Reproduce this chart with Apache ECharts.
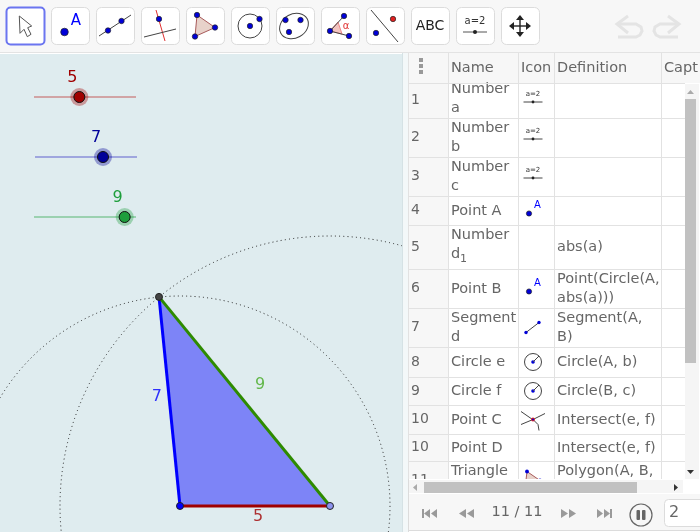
<!DOCTYPE html>
<html lang="en">
<head>
<meta charset="UTF-8">
<title>GeoGebra triangle construction</title>
<script src="https://cdn.jsdelivr.net/npm/echarts@6/dist/echarts.min.js"></script>
<style>
html, body { margin: 0; padding: 0; background: #fff; overflow: hidden; }
#chart { width: 700px; height: 532px; }
</style>
</head>
<body>
<div id="chart"></div>
<script>
// slider values, the triangle sides
const sliderNames = ['a', 'b', 'c'];
const sliderValues = [5, 7, 9];
const sliderRange = [1, 10];

// construction points in graph units
const pointA = [0, 0];
const pointB = [5, 0];
const pointC = [-0.7, 6.97];

// side labels, anchored near the middle of each side
const sideLabelPoints = [[2.6, -0.36], [-0.77, 3.63], [2.67, 4.03]];

// construction protocol table
const rowNumbers = ['1', '2', '3', '4', '5', '6', '7', '8', '9', '10', '10', '11'];
const rowNames = ['Number\na', 'Number\nb', 'Number\nc', 'Point A', 'Number\nd', 'Point B', 'Segment\nd', 'Circle e', 'Circle f', 'Point C', 'Point D', 'Triangle\nt1'];
const rowIcons = ['slider', 'slider', 'slider', 'point', '', 'point', 'segment', 'circle', 'circle', 'intersect', '', 'triangle'];
const rowDefinitions = ['', '', '', '', 'abs(a)', 'Point(Circle(A,\nabs(a)))', 'Segment(A,\nB)', 'Circle(A, b)', 'Circle(B, c)', 'Intersect(e, f)', 'Intersect(e, f)', 'Polygon(A, B,\nC)'];
const tableHeaders = ['Name', 'Icon', 'Definition', 'Capt'];
const stepLabel = '11 / 11';
const speedValue = '2';

const FONT = '"DejaVu Sans"';
const RED = '#a00000', BLUE = '#0000ff', GREEN = '#2e8b00';
const sliderColors = ['#a00000', '#000099', '#1e9e3c'];
const sliderLines = ['#cc8d8d', '#8a8fd8', '#85c99b'];
const sliderTops = [87, 147, 207];
const sliderLefts = [34, 35, 34];

const chart = echarts.init(document.getElementById('chart'));

// ---- small helpers for the app chrome around the graph ----
const rect = (x, y, w, h, fill, stroke, r, lw) => ({ type: 'rect', silent: true, shape: { x, y, width: w, height: h, r: r || 0 }, style: { fill: fill || 'none', stroke: stroke || 'none', lineWidth: lw || 1 } });
const line = (x1, y1, x2, y2, stroke, lw) => ({ type: 'line', silent: true, shape: { x1, y1, x2, y2 }, style: { stroke, lineWidth: lw || 1 } });
const text = (t, x, y, size, fill, align) => ({ type: 'text', silent: true, style: { text: t, x, y, font: size + 'px ' + FONT, fill, textAlign: align || 'left', textVerticalAlign: 'middle', lineHeight: 19 } });
const dot = (x, y, r, fill, stroke) => ({ type: 'circle', silent: true, shape: { cx: x, cy: y, r }, style: { fill, stroke: stroke || 'none', lineWidth: 0.7 } });
const ring = (x, y, r, stroke, lw) => ({ type: 'circle', silent: true, shape: { cx: x, cy: y, r }, style: { fill: 'none', stroke, lineWidth: lw || 1 } });
const poly = (pts, fill, stroke, lw) => ({ type: 'polygon', silent: true, shape: { points: pts }, style: { fill: fill || 'none', stroke: stroke || 'none', lineWidth: lw || 1 } });
const pline = (pts, stroke, lw) => ({ type: 'polyline', silent: true, shape: { points: pts }, style: { fill: 'none', stroke, lineWidth: lw || 1 } });

const PT = '#0000d8', PTE = '#222', DOT = 2.7;
const els = [];

// ---- toolbar ----
els.push(rect(0, 0, 700, 52, '#f7f7f7'));
els.push(line(0, 52.5, 700, 52.5, '#e3e3e3', 1));
for (let i = 0; i < 12; i++) {
  const x = 6.5 + i * 45;
  if (i === 0) els.push(rect(x, 7.5, 38, 37, '#fff', '#6b75f0', 4, 2));
  else els.push(rect(x, 7.5, 38, 37, '#fff', '#dcdcdc', 5, 1));
}
els.push(poly([[19.3, 16], [20, 33.3], [24, 29.3], [27.3, 36.7], [31, 34.3], [27.7, 27.7], [31.7, 26]], '#fff', '#555', 1));
els.push(dot(64.5, 32, 3.8, PT, PTE), text('A', 76, 21, 15, BLUE, 'center'));
els.push(line(99, 36, 131, 15, '#444'), dot(108, 30.5, DOT, PT, PTE), dot(121.5, 21, DOT, PT, PTE));
els.push(line(156, 10, 165, 41, '#e03030'), line(144, 37, 176, 29, '#444'), dot(159, 19, DOT, PT, PTE));
els.push(poly([[197, 15], [215, 27.5], [195, 36.5]], '#e8d2ca', '#a85a5a'), dot(197, 15, DOT, PT, PTE), dot(215, 27.5, DOT, PT, PTE), dot(195, 36.5, DOT, PT, PTE));
els.push(ring(250, 26, 12, '#444'), dot(250, 26, DOT, PT, PTE), dot(259.5, 19, DOT, PT, PTE));
els.push({ type: 'ellipse', silent: true, rotation: 0.5, originX: 294, originY: 26, shape: { cx: 294, cy: 26, rx: 15, ry: 12 }, style: { fill: 'none', stroke: '#444', lineWidth: 1 } });
els.push(dot(285.5, 20, DOT, PT, PTE), dot(300.5, 20, DOT, PT, PTE), dot(289, 32, DOT, PT, PTE));
els.push(poly([[330, 31], [338, 22], [342, 34]], '#f3c4c0', '#e88'), line(330, 31, 344, 16, '#444'), line(330, 31, 349, 36, '#444'));
els.push(dot(330, 31, DOT, PT, PTE), dot(344, 16, DOT, PT, PTE), dot(349, 36, DOT, PT, PTE), text('α', 346, 26, 10, '#e03030', 'center'));
els.push(line(371, 10, 398, 42, '#444'), dot(376, 33, DOT, PT, PTE), dot(393, 19, DOT, '#e02020', PTE));
els.push(text('ABC', 430, 26, 14, '#222', 'center'));
els.push(text('a=2', 475, 21.5, 10, '#333', 'center'), line(463, 32, 487, 32, '#555'), dot(475, 32, 2, '#222'));
els.push(line(520, 17, 520, 35, '#222', 1.4), line(511, 26, 529, 26, '#222', 1.4));
els.push(poly([[520, 15], [516, 20], [524, 20]], '#222'), poly([[520, 37], [516, 32], [524, 32]], '#222'), poly([[509, 26], [514, 22], [514, 30]], '#222'), poly([[531, 26], [526, 22], [526, 30]], '#222'));
els.push(pline([[628, 16], [617, 24], [628, 33]], '#e4e4e4', 3), pline([[617, 24], [636, 24], [641, 27], [642, 31], [640, 35], [636, 37], [618, 37]], '#e4e4e4', 3));
els.push(pline([[668, 16], [679, 24], [668, 33]], '#e4e4e4', 3), pline([[679, 24], [660, 24], [655, 27], [654, 31], [656, 35], [660, 37], [678, 37]], '#e4e4e4', 3));

// ---- splitter ----
els.push(rect(402, 53, 6, 479, '#f3f8f9'), line(402.5, 53, 402.5, 532, '#d5e2e5'), line(408.5, 53, 408.5, 532, '#dcdcdc'));

// ---- construction table ----
const colLines = [408.5, 448.5, 518.5, 554.5, 661.5];
const rowLines = [83, 118, 157, 196, 225, 269, 308, 347, 377, 405, 434, 461, 500];

function cellIcon(kind, cx, cy) {
  const out = [];
  if (kind === 'slider') out.push(text('a=2', cx, cy - 6.5, 7, '#333', 'center'), line(cx - 9.5, cy + 1.5, cx + 9.5, cy + 1.5, '#444'), dot(cx, cy + 1.5, 1.4, '#222'));
  if (kind === 'point') out.push(dot(cx - 4, cy + 3, 2.6, PT, PTE), text('A', cx + 4.5, cy - 5, 10, BLUE, 'center'));
  if (kind === 'segment') out.push(line(cx - 7, cy + 5, cx + 6, cy - 5, '#444'), dot(cx - 7, cy + 5, 1.7, PT), dot(cx + 6, cy - 5, 1.7, PT));
  if (kind === 'circle') out.push(ring(cx, cy, 8.5, '#444'), dot(cx, cy, 1.8, PT), line(cx, cy, cx + 6, cy - 6, '#444'));
  if (kind === 'intersect') out.push(line(cx - 12, cy - 8, cx + 1, cy + 1, '#444'), pline([[cx - 12, cy + 5], [cx, cy], [cx + 12, cy - 6]], '#444'), pline([[cx, cy], [cx + 5, cy + 5], [cx + 6, cy + 11]], '#444'), dot(cx, cy, 1.9, '#e02020'), dot(cx, cy, 1, PT));
  if (kind === 'triangle') out.push(poly([[cx - 6, cy - 9], [cx + 7, cy], [cx - 8, cy + 8]], '#e8d2ca', '#a85a5a'), dot(cx - 6, cy - 9, 1.9, PT), dot(cx + 7, cy, 1.9, PT));
  return out;
}

els.push(rect(409, 53, 291, 30, '#f7f7f7'));
els.push(rect(409, 83, 40, 396, '#f7f7f7'));
els.push(rect(449, 83, 251, 396, '#fff'));
rowNumbers.forEach((n, i) => {
  const cy = (rowLines[i] + rowLines[i + 1]) / 2;
  // row 1 is scrolled a bit under the header, the subscripted name in row 5 sits higher
  const nameY = i === 0 ? cy - 1.5 : i === 4 ? cy - 2 : cy + 0.5;
  els.push(text(n, 411, cy, 14, '#666'));
  els.push(text(rowNames[i], 451, nameY, 14.5, '#666'));
  els.push(text(rowDefinitions[i], 557, cy + 0.5, 14.5, '#666'));
  els.push(...cellIcon(rowIcons[i], 533, cy));
});
els.push(text('1', 460, 259, 11, '#666'));
rowLines.slice(0, 12).forEach(y => els.push(line(408, y + 0.5, 685, y + 0.5, '#e2e2e2')));
colLines.forEach(x => els.push(line(x, 53, x, 479, '#e2e2e2')));
[60, 66, 72].forEach(y => els.push(rect(419, y - 2, 4, 4, '#999')));
els.push(text(tableHeaders[0], 451, 68, 14.5, '#666'), text(tableHeaders[1], 521, 68, 14.5, '#666'), text(tableHeaders[2], 557, 68, 14.5, '#666'), text(tableHeaders[3], 664, 68, 14.5, '#666'));

// scrollbars and the play bar cover the clipped last row
els.push(rect(409, 479, 291, 53, '#fff'));
els.push(rect(409, 480, 274, 13, '#f5f5f5'));
els.push(rect(685, 84, 14, 395, '#f5f5f5'), rect(685, 99, 11, 264, '#c1c1c1'));
els.push(poly([[687, 94], [694, 94], [690.5, 90]], '#aaa'), poly([[687, 470], [694, 470], [690.5, 474]], '#333'));
els.push(rect(424, 482, 213, 11, '#c1c1c1'));
els.push(poly([[417, 484], [417, 491], [413, 487.5]], '#aaa'), poly([[674, 484], [674, 491], [678, 487.5]], '#333'));
els.push(rect(409, 494, 291, 36, '#f7f7f7'), line(409, 530.5, 700, 530.5, '#dcdcdc'));
const GREY = '#9a9a9a';
els.push(rect(422, 509, 2, 9, GREY), poly([[430, 509], [430, 518], [424, 513.5]], GREY), poly([[437, 509], [437, 518], [431, 513.5]], GREY));
els.push(poly([[466, 509], [466, 518], [459, 513.5]], GREY), poly([[474, 509], [474, 518], [467, 513.5]], GREY));
els.push(text(stepLabel, 517, 512, 14.5, '#666', 'center'));
els.push(poly([[561, 509], [561, 518], [568, 513.5]], GREY), poly([[569, 509], [569, 518], [576, 513.5]], GREY));
els.push(poly([[597, 509], [597, 518], [603, 513.5]], GREY), poly([[604, 509], [604, 518], [610, 513.5]], GREY), rect(610, 509, 2, 9, GREY));
els.push(ring(641, 515, 11, '#666', 1.2), rect(636.5, 510, 3.5, 10, '#666', null, 1), rect(642, 510, 3.5, 10, '#666', null, 1));
els.push(rect(664.5, 499.5, 40, 27, '#fff', '#dcdcdc', 4), text(speedValue, 674, 512.5, 16, '#666', 'center'));

// ---- graph view: one grid in graph units, 30px to the unit ----
const grids = [{ left: 0, top: 54, width: 402, height: 478, show: true, backgroundColor: '#dfecef', borderWidth: 0 }];
const xAxes = [{ type: 'value', min: -6, max: 7.4, show: false, gridIndex: 0 }];
const yAxes = [{ type: 'value', min: -0.8667, max: 15.0667, show: false, gridIndex: 0 }];
sliderTops.forEach((top, i) => {
  grids.push({ left: sliderLefts[i], top, width: 102, height: 20, show: false });
  xAxes.push({ type: 'value', min: sliderRange[0], max: sliderRange[1], show: false, gridIndex: i + 1 });
  yAxes.push({ type: 'value', min: -1, max: 1, show: false, gridIndex: i + 1 });
});

const triangle = [pointA, pointB, pointC];
const series = [];

series.push({
  type: 'custom', name: 'circles', coordinateSystem: 'cartesian2d', clip: true, silent: true,
  encode: { x: 0, y: 1 },
  data: [[pointA[0], pointA[1], sliderValues[1]], [pointB[0], pointB[1], sliderValues[2]]],
  renderItem: (params, api) => {
    const c = api.coord([api.value(0), api.value(1)]);
    const r = api.size([api.value(2), 0])[0];
    return { type: 'circle', shape: { cx: c[0], cy: c[1], r }, style: { fill: 'none', stroke: '#222', lineWidth: 1, lineDash: [1, 3.2] } };
  }
});
series.push({
  type: 'custom', name: 'triangle', coordinateSystem: 'cartesian2d', silent: true,
  encode: { x: 0, y: 1 },
  data: triangle,
  renderItem: (params, api) => {
    if (params.dataIndex !== 0) return null;
    return { type: 'polygon', shape: { points: triangle.map(p => api.coord(p)) }, style: { fill: '#7d84f7' } };
  }
});
[[pointA, pointB, RED], [pointA, pointC, BLUE], [pointB, pointC, GREEN]].forEach(s => {
  series.push({ type: 'line', data: [s[0], s[1]], showSymbol: false, silent: true, lineStyle: { color: s[2], width: 3 } });
});
[[pointA, '#0000ff'], [pointB, '#8d93ee'], [pointC, '#444444']].forEach(p => {
  series.push({ type: 'scatter', z: 5, data: [p[0]], symbolSize: 7, silent: true, itemStyle: { color: p[1], borderColor: '#222', borderWidth: 1, opacity: 1 } });
});
[[0, RED], [1, BLUE], [2, '#44aa22']].forEach(l => {
  series.push({
    type: 'scatter', z: 5, data: [sideLabelPoints[l[0]]], symbolSize: 0, silent: true,
    label: { show: true, position: 'inside', formatter: String(sliderValues[l[0]]), color: l[1], fontFamily: FONT, fontSize: 16 }
  });
});

// sliders, each on its own 1..10 axis
sliderValues.forEach((v, i) => {
  const idx = i + 1;
  series.push({ type: 'line', xAxisIndex: idx, yAxisIndex: idx, data: [[sliderRange[0], 0], [sliderRange[1], 0]], showSymbol: false, silent: true, lineStyle: { color: sliderLines[i], width: 1.6 } });
  series.push({ type: 'scatter', z: 5, xAxisIndex: idx, yAxisIndex: idx, data: [[v, 0]], symbolSize: 18, silent: true, itemStyle: { color: sliderColors[i], opacity: 0.35 } });
  series.push({
    type: 'scatter', z: 6, xAxisIndex: idx, yAxisIndex: idx, data: [[v, 0]], symbolSize: 11, silent: true,
    itemStyle: { color: sliderColors[i], borderColor: '#111', borderWidth: 1, opacity: 1 },
    label: { show: true, position: 'top', distance: 5, offset: [-7, 0], formatter: String(v), color: sliderColors[i], fontFamily: FONT, fontSize: 16 }
  });
});

chart.setOption({
  animation: false,
  textStyle: { fontFamily: FONT },
  grid: grids,
  xAxis: xAxes,
  yAxis: yAxes,
  graphic: { elements: els },
  series: series
});
</script>
</body>
</html>
